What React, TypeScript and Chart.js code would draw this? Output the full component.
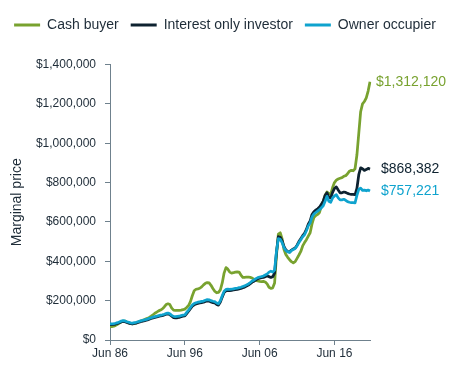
import React, { useEffect, useRef } from 'react';
import { Chart, registerables } from 'chart.js';

Chart.register(...registerables);

const FONT = '"Liberation Sans", Arial, Helvetica, sans-serif';
const TEXT = '#1e2c38';
const AXIS = '#6f818d';

// Quarterly categories: Jun 86 ... Mar 21
const quarterMonths = ['Jun', 'Sep', 'Dec', 'Mar'];
const categories: string[] = [];
for (let i = 0; i < 140; i++) {
  const m = quarterMonths[i % 4];
  const yr = 1986 + Math.floor(i / 4) + (m === 'Mar' ? 1 : 0);
  categories.push(`${m} ${String(yr % 100).padStart(2, '0')}`);
}

const xTickLabels = ['Jun 86', 'Jun 96', 'Jun 06', 'Jun 16'];
const yTickValues = [0, 200000, 400000, 600000, 800000, 1000000, 1200000, 1400000];

const seriesNames = ['Cash buyer', 'Interest only investor', 'Owner occupier'];
const seriesColors = ['#78a22f', '#0e2230', '#0fa3ce'];

const cashBuyer = [
  68000, 68000, 70000, 74000, 80000, 86000, 92000, 96000, 96000, 92000,
  88000, 84000, 82000, 84000, 87000, 91000, 95000, 99000, 102000, 106000,
  110000, 115000, 121000, 128000, 136000, 142000, 148000, 152000, 158000, 168000,
  180000, 184000, 180000, 162000, 152000, 150000, 150000, 151000, 152000, 154000,
  157000, 165000, 175000, 195000, 225000, 250000, 258000, 260000, 263000, 270000,
  280000, 288000, 292000, 290000, 278000, 262000, 248000, 240000, 242000, 255000,
  290000, 340000, 368000, 360000, 345000, 340000, 342000, 345000, 346000, 345000,
  330000, 318000, 318000, 320000, 320000, 318000, 315000, 308000, 303000, 300000,
  298000, 297000, 298000, 295000, 285000, 268000, 262000, 265000, 290000, 430000,
  538000, 545000, 515000, 460000, 435000, 420000, 408000, 398000, 392000, 398000,
  415000, 432000, 450000, 478000, 495000, 510000, 528000, 545000, 590000, 622000,
  632000, 638000, 648000, 680000, 705000, 735000, 752000, 745000, 740000, 775000,
  800000, 812000, 818000, 822000, 825000, 832000, 835000, 845000, 858000, 862000,
  860000, 870000, 940000, 1050000, 1160000, 1200000, 1212000, 1230000, 1265000, 1312120,
];

const interestOnlyInvestor = [
  78000, 78000, 79000, 81000, 84000, 88000, 92000, 94000, 93000, 89000,
  86000, 83000, 82000, 84000, 86000, 89000, 92000, 95000, 97000, 100000,
  102000, 106000, 109000, 112000, 115000, 117000, 120000, 122000, 124000, 127000,
  131000, 133000, 129000, 121000, 114000, 112000, 113000, 115000, 118000, 121000,
  122000, 134000, 146000, 159000, 172000, 179000, 183000, 186000, 188000, 190000,
  192000, 196000, 199000, 198000, 193000, 190000, 188000, 181000, 177000, 193000,
  218000, 241000, 250000, 252000, 251000, 252000, 254000, 256000, 257000, 260000,
  262000, 266000, 269000, 274000, 279000, 286000, 294000, 299000, 306000, 311000,
  314000, 317000, 318000, 322000, 325000, 322000, 318000, 322000, 340000, 445000,
  525000, 522000, 505000, 475000, 458000, 450000, 447000, 457000, 463000, 468000,
  482000, 500000, 515000, 530000, 542000, 562000, 588000, 605000, 638000, 652000,
  660000, 667000, 675000, 690000, 705000, 735000, 748000, 725000, 722000, 750000,
  770000, 778000, 762000, 748000, 748000, 752000, 750000, 745000, 742000, 740000,
  740000, 738000, 770000, 840000, 875000, 870000, 862000, 866000, 872000, 868382,
];

const ownerOccupier = [
  82000, 82000, 83000, 85000, 88000, 92000, 96000, 98000, 97000, 93000,
  90000, 87000, 86000, 88000, 90000, 93000, 96000, 99000, 101000, 104000,
  106000, 110000, 113000, 116000, 119000, 121000, 124000, 126000, 128000, 131000,
  135000, 137000, 133000, 125000, 120000, 119000, 120000, 121000, 124000, 126000,
  128000, 140000, 152000, 165000, 178000, 185000, 189000, 192000, 194000, 196000,
  198000, 202000, 205000, 204000, 200000, 197000, 195000, 188000, 184000, 200000,
  225000, 248000, 257000, 258000, 257000, 258000, 260000, 262000, 263000, 266000,
  268000, 272000, 275000, 280000, 285000, 292000, 300000, 305000, 312000, 317000,
  320000, 322000, 325000, 330000, 335000, 345000, 350000, 345000, 355000, 450000,
  515000, 512000, 495000, 470000, 455000, 448000, 445000, 455000, 460000, 465000,
  478000, 495000, 510000, 525000, 535000, 555000, 580000, 595000, 625000, 640000,
  648000, 655000, 662000, 672000, 682000, 705000, 730000, 705000, 700000, 722000,
  732000, 738000, 722000, 712000, 712000, 715000, 710000, 703000, 700000, 698000,
  698000, 697000, 735000, 765000, 772000, 760000, 762000, 758000, 762000, 757221,
];

const seriesValues = [cashBuyer, interestOnlyInvestor, ownerOccupier];
const drawOrder = [2, 1, 0];
const endLabelGap = [6, 11, 11];

const fmtDollar = (v: number) => '$' + Math.round(v).toLocaleString('en-US');

const endLabelsPlugin = {
  id: 'endLabels',
  afterDatasetsDraw(chart: any) {
    const ctx = chart.ctx;
    chart.data.datasets.forEach((ds: any, i: number) => {
      const meta = chart.getDatasetMeta(i);
      const pt = meta.data[meta.data.length - 1];
      if (!pt) return;
      const v = ds.data[ds.data.length - 1];
      ctx.save();
      ctx.font = `14px ${FONT}`;
      ctx.fillStyle = ds.borderColor;
      ctx.textAlign = 'left';
      ctx.textBaseline = 'middle';
      ctx.fillText(fmtDollar(v), pt.x + endLabelGap[i], pt.y);
      ctx.restore();
    });
  },
};

export default function App() {
  const ref = useRef<HTMLCanvasElement | null>(null);

  useEffect(() => {
    document.body.style.margin = '0';
    if (!ref.current) return;
    Chart.defaults.font.family = FONT;
    const chart = new Chart(ref.current, {
      type: 'line',
      data: {
        labels: categories,
        datasets: seriesNames.map((name, i) => ({
          label: name,
          data: seriesValues[i],
          borderColor: seriesColors[i],
          backgroundColor: seriesColors[i],
          borderWidth: 2.75,
          pointRadius: 0,
          pointHoverRadius: 0,
          tension: 0,
          borderJoinStyle: 'round' as const,
          order: drawOrder[i],
          xAxisID: 'x',
          yAxisID: 'y',
        })),
      },
      options: {
        animation: false,
        responsive: true,
        maintainAspectRatio: false,
        layout: { padding: { top: 6, left: 0, right: 0, bottom: 0 } },
        plugins: {
          tooltip: { enabled: false },
          legend: {
            position: 'top',
            labels: {
              boxWidth: 26,
              boxHeight: 3,
              padding: 12,
              color: TEXT,
              font: { size: 14, family: FONT },
              sort: (a: any, b: any) => a.datasetIndex - b.datasetIndex,
              generateLabels: (chart: any) => {
                const items = Chart.defaults.plugins.legend.labels.generateLabels(chart);
                return items.map((it: any) => ({ ...it, fillStyle: it.strokeStyle, lineWidth: 0 }));
              },
            },
          },
        },
        scales: {
          x: {
            type: 'category',
            position: 'bottom',
            afterBuildTicks: (s: any) => {
              s.ticks = s.ticks.filter((t: any) => xTickLabels.includes(categories[t.value]));
            },
            afterFit: (s: any) => {
              s.height = 38;
            },
            grid: { drawOnChartArea: false, tickLength: 5, color: AXIS, tickColor: AXIS },
            border: { display: true, color: AXIS, width: 1 },
            ticks: {
              autoSkip: false,
              maxRotation: 0,
              minRotation: 0,
              padding: 1,
              color: TEXT,
              font: { size: 12, family: FONT },
            },
          },
          y: {
            type: 'linear',
            position: 'left',
            min: 0,
            max: 1400000,
            afterBuildTicks: (s: any) => {
              s.ticks = yTickValues.map((v) => ({ value: v }));
            },
            afterFit: (s: any) => {
              s.width = 110;
            },
            grid: { drawOnChartArea: false, tickLength: 5, color: AXIS, tickColor: AXIS },
            border: { display: true, color: AXIS, width: 1 },
            ticks: {
              padding: 9,
              color: TEXT,
              font: { size: 12, family: FONT },
              callback: (v: any) => fmtDollar(Number(v)),
            },
            title: {
              display: true,
              text: 'Marginal price',
              color: TEXT,
              font: { size: 14, family: FONT },
              padding: { top: 8.6, bottom: 0 },
            },
          },
          xTop: {
            type: 'linear',
            position: 'top',
            display: true,
            grid: { display: false },
            border: { display: false },
            ticks: { display: false },
            afterFit: (s: any) => {
              s.height = 22.5;
            },
          },
          yR: {
            type: 'linear',
            position: 'right',
            display: true,
            grid: { display: false },
            border: { display: false },
            ticks: { display: false },
            afterFit: (s: any) => {
              s.width = 80;
            },
          },
        },
      },
      plugins: [endLabelsPlugin],
    } as any);
    return () => chart.destroy();
  }, []);

  return (
    <div style={{ width: 450, height: 378, position: 'relative', background: '#ffffff' }}>
      <canvas ref={ref} />
    </div>
  );
}
